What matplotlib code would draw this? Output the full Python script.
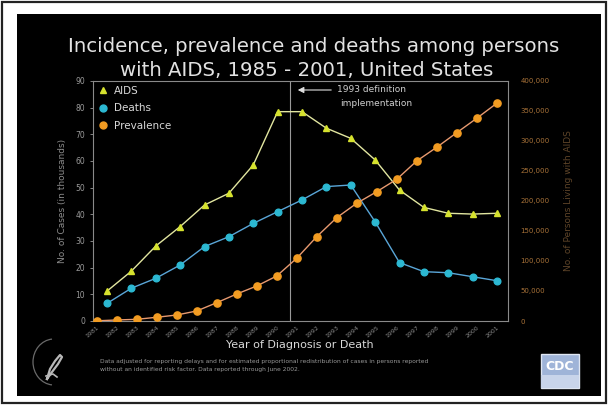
import matplotlib
matplotlib.use("Agg")
import matplotlib.pyplot as plt
from matplotlib.lines import Line2D
from matplotlib.patches import Rectangle, Arc

# ---- data (thousands) ----
years_cases = list(range(1985, 2002))
aids = [11.2, 18.7, 28.1, 35.4, 43.5, 47.9, 58.5, 78.5, 78.5, 72.3, 68.5,
        60.4, 49.1, 42.6, 40.4, 40.1, 40.4]
deaths = [6.6, 12.3, 16.0, 21.0, 27.9, 31.6, 36.6, 41.0, 45.4, 50.4, 51.0,
          37.2, 21.9, 18.5, 18.1, 16.6, 15.1]
years_prev = list(range(1981, 2002))
prevalence = [0.3, 1.7, 2.8, 6.2, 10.0, 16.7, 30.5, 45.0, 58.3, 75.0, 104.5,
              140.5, 172.2, 196.2, 215.5, 236.2, 266.7, 289.5, 313.8, 337.8,
              362.8]
left_ticks = list(range(0, 100, 10))
right_ticks = list(range(0, 450, 50))
right_labels = ["0"] + [f"{v},000" for v in right_ticks[1:]]
definition_year = 1992.5

W, H = 608, 405
fig = plt.figure(figsize=(W / 100, H / 100), dpi=100, facecolor="white")

# background layer in pixel units
bg = fig.add_axes([0, 0, 1, 1])
bg.set_xlim(0, W)
bg.set_ylim(H, 0)
bg.axis("off")
bg.add_patch(Rectangle((2, 2), W - 4, H - 4, facecolor="white",
                       edgecolor="#222222", lw=1.6))
bg.add_patch(Rectangle((17, 14), 584, 382, facecolor="black", edgecolor="none"))

TXT = "#e2e2e2"
bg.text(314, 47, "Incidence, prevalence and deaths among persons",
        ha="center", va="center", color=TXT, fontsize=14.2)
bg.text(307, 70, "with AIDS, 1985 - 2001, United States",
        ha="center", va="center", color=TXT, fontsize=14.2)

# plot area
x0, x1, y0, y1 = 93.3, 508.0, 81.0, 321.0
pos = [x0 / W, 1 - y1 / H, (x1 - x0) / W, (y1 - y0) / H]

ax = fig.add_axes(pos)
ax.set_facecolor("none")
ax.set_xlim(1984.438, 2001.451)
ax.set_ylim(0, 90)
for s in ax.spines.values():
    s.set_color("#8a8a8a")
    s.set_linewidth(0.8)
ax.set_yticks(left_ticks)
ax.set_yticklabels([str(v) for v in left_ticks])
ax.tick_params(axis="y", colors="#9a9a9a", labelsize=5.5, length=2.5, width=0.6)
ax.set_xticks([])
ax.set_ylabel("No. of Cases (in thousands)", color="#8c8c8c", fontsize=6.5,
              labelpad=6)
ax.axvline(definition_year, color="#9a9a9a", lw=0.8)

axp = fig.add_axes(pos)
axp.set_facecolor("none")
axp.set_xlim(1980.83, 2001.565)
axp.set_ylim(0, 400)
for s in axp.spines.values():
    s.set_visible(False)
axp.yaxis.tick_right()
axp.yaxis.set_label_position("right")
axp.set_yticks(right_ticks)
axp.set_yticklabels(right_labels)
axp.tick_params(axis="y", colors="#a87238", labelsize=5, length=0, pad=9)
axp.set_ylabel("No. of Persons Living with AIDS", color="#5e4428",
               fontsize=6.5, labelpad=10)
axp.set_xticks(years_prev)
axp.set_xticklabels([str(y) for y in years_prev], rotation=40, ha="right",
                    rotation_mode="anchor")
axp.tick_params(axis="x", colors="#8a8a8a", labelsize=4.5, length=0, pad=3)

# series
ax.plot(years_cases, aids, color="#e2e6a0", lw=1.0, marker="^", ms=5,
        mfc="#d6e22e", mec="#d6e22e", zorder=4)
ax.plot(years_cases, deaths, color="#5aa6d8", lw=1.0, marker="o", ms=4.8,
        mfc="#2cb8d2", mec="#2cb8d2", zorder=4)
axp.plot(years_prev, prevalence, color="#e89a70", lw=1.0, marker="o", ms=5.2,
         mfc="#f29c22", mec="#f29c22", zorder=4)

# legend
handles = [
    Line2D([], [], ls="none", marker="^", ms=5, mfc="#d6e22e", mec="#d6e22e"),
    Line2D([], [], ls="none", marker="o", ms=5, mfc="#2cb8d2", mec="#2cb8d2"),
    Line2D([], [], ls="none", marker="o", ms=5, mfc="#f29c22", mec="#f29c22"),
]
leg = axp.legend(handles, ["AIDS", "Deaths", "Prevalence"], loc="upper left",
                 bbox_to_anchor=((99 - x0) / (x1 - x0), 1.0 - 5 / 240),
                 frameon=False, fontsize=7.5, handlelength=0.8,
                 handletextpad=0.6, labelspacing=0.7, borderaxespad=0,
                 borderpad=0)
for t in leg.get_texts():
    t.set_color("#d8d8d8")

# 1993 definition note
def frac(px, py):
    return ((px - x0) / (x1 - x0), (y1 - py) / (y1 - y0))

ax.annotate("", xy=frac(295, 90), xytext=frac(334, 90), xycoords="axes fraction",
            textcoords="axes fraction",
            arrowprops=dict(arrowstyle="-|>,head_length=0.35,head_width=0.18",
                            color="#e0e0e0", lw=0.8))
ax.text(*frac(337, 90), "1993 definition", transform=ax.transAxes,
        color="#d0d0d0", fontsize=6.5, va="center", ha="left")
ax.text(*frac(340, 103), "implementation", transform=ax.transAxes,
        color="#d0d0d0", fontsize=6.5, va="center", ha="left")

# axis title and source note
bg.text(300, 345, "Year of Diagnosis or Death", ha="center", va="center",
        color="#d8d8d8", fontsize=8)
bg.text(100, 362, "Data adjusted for reporting delays and for estimated proportional "
        "redistribution of cases in persons reported", ha="left", va="center",
        color="#9a9a9a", fontsize=4.3)
bg.text(100, 370, "without an identified risk factor. Data reported through June 2002.",
        ha="left", va="center", color="#9a9a9a", fontsize=4.3)

# HHS emblem
bg.add_patch(Arc((54, 362), 42, 46, theta1=95, theta2=265, color="#6a6a6a", lw=0.9))
bg.plot([47, 52, 58, 62, 60, 55, 50, 47], [379, 372, 364, 357, 355, 361, 369, 379],
        color="#b8b8b8", lw=1.6)
bg.plot([46, 53, 57], [376, 374, 377], color="#b8b8b8", lw=1.2)

# CDC logo
bg.add_patch(Rectangle((541, 354), 38, 34, facecolor="#9fb4d8", edgecolor="#dfe6f2",
                       lw=1.0))
bg.add_patch(Rectangle((541, 375), 38, 13, facecolor="#c8d4ea", edgecolor="none"))
bg.text(560, 366, "CDC", ha="center", va="center", color="white",
        fontsize=9, fontweight="bold")

fig.savefig("out.png", dpi=100, facecolor="white")
